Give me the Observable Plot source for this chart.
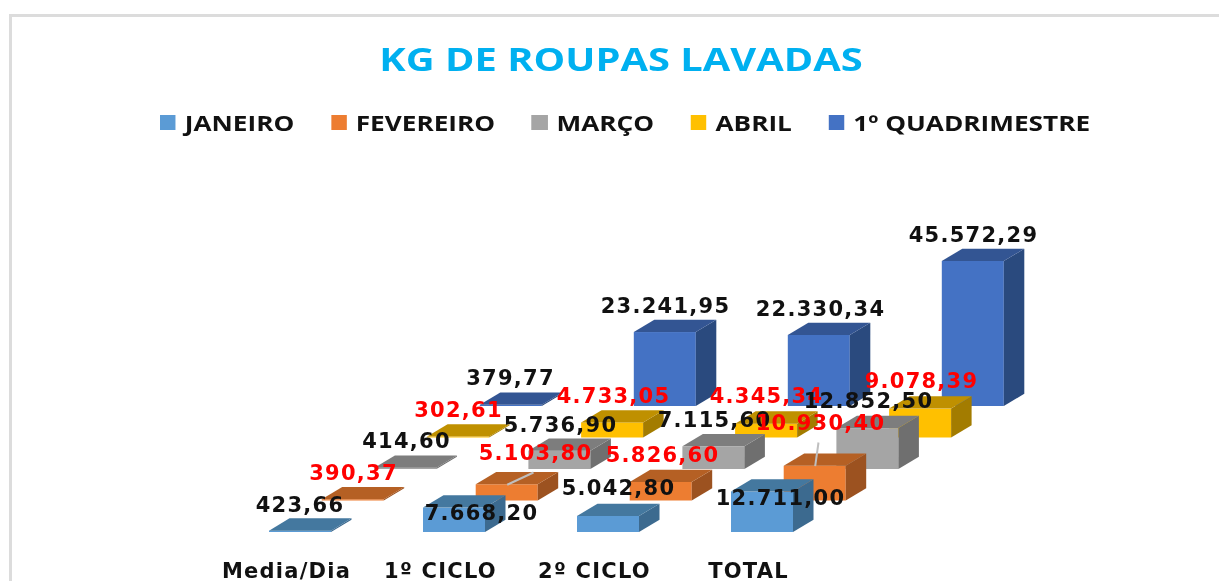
<!DOCTYPE html>
<html><head><meta charset="utf-8">
<script src="https://cdn.jsdelivr.net/npm/d3@7"></script>
<script src="https://cdn.jsdelivr.net/npm/@observablehq/plot@0.6"></script>
<style>
html,body{margin:0;padding:0;background:#fff;width:1219px;height:581px;overflow:hidden}
#frame{position:absolute;left:9px;top:14px;width:1210px;height:567px;border-left:3px solid #dcdcdc;border-top:3px solid #dcdcdc;box-sizing:border-box}
#title{position:absolute;left:0;width:1242px;top:37px;text-align:center;font:700 33px/44px "Open Sans",sans-serif;color:#00B0F0;transform:scaleX(1.208);transform-origin:621px 0;filter:blur(.4px)}
#legend{position:absolute;left:160px;top:107px;display:flex;gap:30.7px;font:700 22px/30px "Open Sans",sans-serif;color:#111;white-space:nowrap;transform:scaleX(1.19);transform-origin:0 0;filter:blur(.4px)}
#legend span.item{display:flex;align-items:center;gap:7.5px}
#legend i{display:block;width:13.4px;height:15px}
#chart{position:absolute;left:0;top:150px;filter:blur(.4px)}
</style></head><body>
<div id="frame"></div>
<div id="title">KG DE ROUPAS LAVADAS</div>
<div id="legend"></div>
<div id="chart"></div>
<script>
const categories = ["Media/Dia", "1º CICLO", "2º CICLO", "TOTAL"];
const seriesNames = ["JANEIRO", "FEVEREIRO", "MARÇO", "ABRIL", "1º QUADRIMESTRE"];
const janeiro = [423.66, 7668.20, 5042.80, 12711.00];
const fevereiro = [390.37, 5103.80, 5826.60, 10930.40];
const marco = [414.60, 5736.90, 7115.60, 12852.50];
const abril = [302.61, 4733.05, 4345.34, 9078.39];
const quadrimestre = [379.77, 23241.95, 22330.34, 45572.29];
const seriesValues = [janeiro, fevereiro, marco, abril, quadrimestre];

const frontColors = ["#5B9BD5", "#ED7D31", "#A5A5A5", "#FFC000", "#4472C4"];
const topColors = ["#44789F", "#B56024", "#7D7D7D", "#BF9000", "#335593"];
const sideColors = ["#3C6A8F", "#9C5220", "#6F6F6F", "#A37C00", "#2A4A7E"];
const labelColors = ["#111", "#FF0000", "#111", "#FF0000", "#111"];

// chart geometry, in the units of the x scale (category steps) and y scale (kg)
const pxX = 154, pxY = 145 / 45572.29;
const barW = 62 / pxX, stepX = 52.7 / pxX, depthX = 20.5 / pxX;
const stepY = 31.5 / pxY, depthY = 12.3 / pxY;
const labelCenters = [
  [[299.5,505],[481,513],[618,488],[780,498]],
  [[353,473],[535,453],[662,455],[820,423]],
  [[406,441],[560,425],[714,420],[868,401]],
  [[458,410],[613,396],[766,396],[921,381]],
  [[510,378],[665,306],[820,309],[973,235]]
];
const fmt = v => v.toLocaleString("pt-BR", {minimumFractionDigits: 2, maximumFractionDigits: 2});

const x0 = 269, yBase = 382;
const toX = px => (px - x0) / pxX;
const toY = py => (yBase - (py - 150)) / pxY;

const marks = [];
for (let s = seriesNames.length - 1; s >= 0; s--) {
  const bars = categories.map((c, i) => {
    const xl = i + s * stepX, base = s * stepY;
    return {i, xl, xr: xl + barW, base, top: base + seriesValues[s][i]};
  });
  const side = bars.flatMap(b => [
    {z: b.i, x: b.xr, y1: b.base, y2: b.top},
    {z: b.i, x: b.xr + depthX, y1: b.base + depthY, y2: b.top + depthY}
  ]);
  const topFace = bars.flatMap(b => [
    {z: b.i, y: b.top, x1: b.xl, x2: b.xr},
    {z: b.i, y: b.top + depthY, x1: b.xl + depthX, x2: b.xr + depthX}
  ]);
  marks.push(
    Plot.rect(bars, {x1: "xl", x2: "xr", y1: "base", y2: "top", fill: frontColors[s]}),
    Plot.area(side, {x1: "x", y1: "y1", y2: "y2", z: "z", fill: sideColors[s], curve: "linear"}),
    Plot.area(topFace, {y1: "y", x1: "x1", x2: "x2", z: "z", fill: topColors[s], curve: "linear"})
  );
}

// data labels, ordered category by category so that overlaps stack as in the source
const labels = categories.flatMap((c, i) => seriesNames.map((n, s) => ({
  text: fmt(seriesValues[s][i]),
  x: toX(labelCenters[s][i][0]),
  y: toY(labelCenters[s][i][1]),
  fill: labelColors[s]
})));
// leader lines from the bar top to the moved label
const leaders = [[1, 1, 533, 472], [1, 3, 818, 442]].map(([s, i, ex, ey]) => ({
  x1: i + s * stepX + barW / 2,
  y1: s * stepY + seriesValues[s][i],
  x2: toX(ex),
  y2: toY(ey)
}));
marks.push(
  Plot.link(leaders, {x1: "x1", y1: "y1", x2: "x2", y2: "y2", stroke: "#BFBFBF", strokeWidth: 2}),
  Plot.text(labels, {x: "x", y: "y", text: "text", fill: "fill", fontWeight: 700, fontSize: 21, textAnchor: "middle", lineAnchor: "middle"}),
  Plot.axisX(categories.map((c, i) => i - 14 / pxX + barW / 2), {
    tickSize: 0, tickPadding: 0, anchor: "bottom", lineAnchor: "middle",
    tickFormat: d => categories[Math.round(d - barW / 2 + 14 / pxX)],
    fontWeight: 700, fontSize: 21, fill: "#111", label: null
  })
);

const chart = Plot.plot({
  width: 1219, height: 431, margin: 0, marginBottom: 10,
  x: {type: "linear", domain: [0, 3], range: [x0, x0 + 3 * pxX], axis: null},
  y: {type: "linear", domain: [0, 45572.29], range: [yBase, yBase - 145], axis: null},
  style: {fontFamily: "'DejaVu Sans',sans-serif", background: "transparent", overflow: "visible", letterSpacing: "1.25px"},
  marks
});
document.getElementById("chart").append(chart);

const legend = d3.select("#legend");
seriesNames.forEach((n, s) => {
  const it = legend.append("span").attr("class", "item");
  it.append("i").style("background", frontColors[s]);
  it.append("span").text(n);
});
</script>
</body></html>
